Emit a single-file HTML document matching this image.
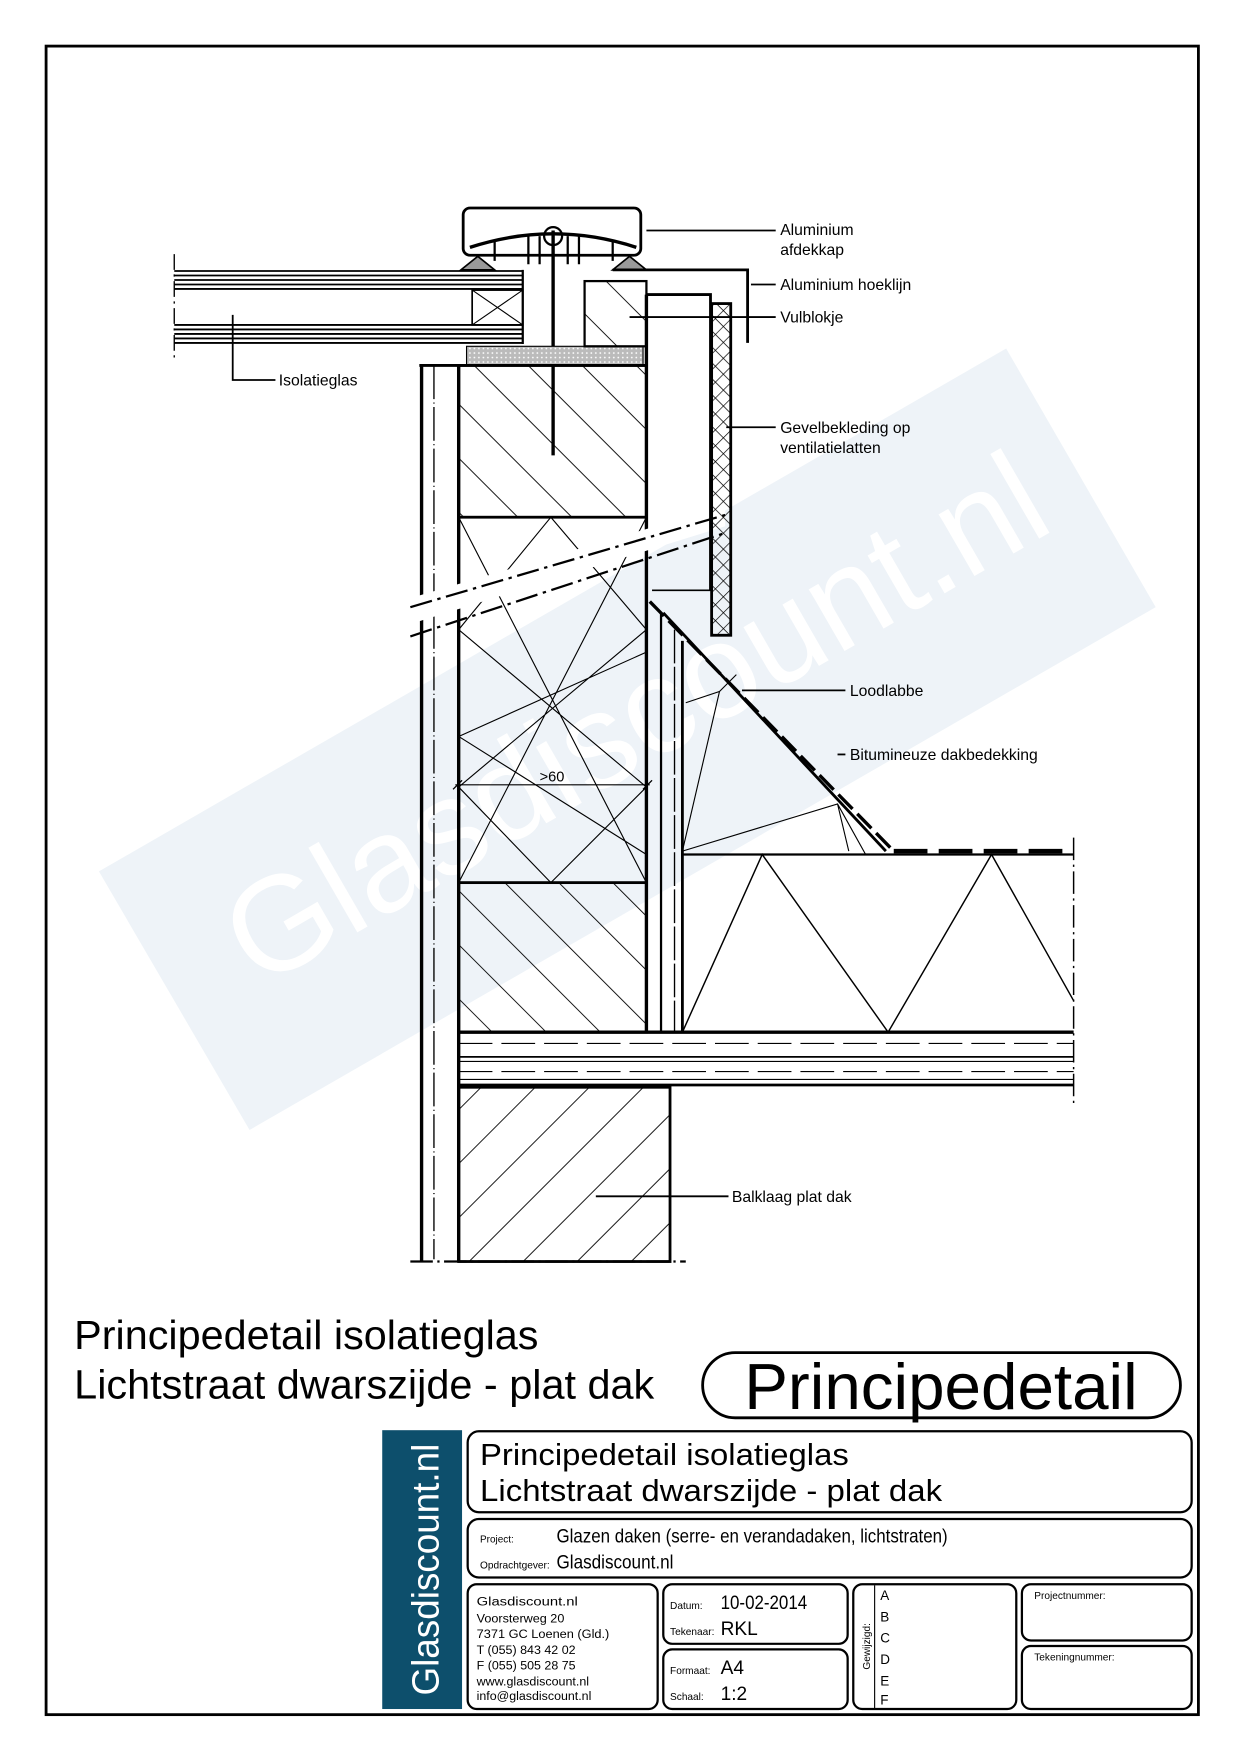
<!DOCTYPE html>
<html><head><meta charset="utf-8"><style>
html,body{margin:0;padding:0;background:#fff}
svg{display:block}
text{font-family:"Liberation Sans",sans-serif;fill:#000}
</style></head><body>
<svg width="1240" height="1754" viewBox="0 0 1103 1560" preserveAspectRatio="none" xmlns="http://www.w3.org/2000/svg">
<defs>
<pattern id="h1" patternUnits="userSpaceOnUse" width="34" height="34" patternTransform="rotate(45)"><line x1="0" y1="0" x2="0" y2="34" stroke="#000" stroke-width="1.6"/></pattern>
<pattern id="h2" patternUnits="userSpaceOnUse" width="34" height="34" patternTransform="rotate(-45)"><line x1="0" y1="0" x2="0" y2="34" stroke="#000" stroke-width="1.6"/></pattern>
<pattern id="xh" patternUnits="userSpaceOnUse" width="10" height="10" patternTransform="rotate(45)"><path d="M0 0V10M0 0H10" stroke="#000" stroke-width="1.2" fill="none"/></pattern>
<pattern id="dots" patternUnits="userSpaceOnUse" width="4" height="4"><rect width="4" height="4" fill="#bbb"/><circle cx="2" cy="2" r="0.8" fill="#fff"/></pattern>
</defs>
<polygon points="88,775 895,310 1028,540 222,1005" fill="#eef3f8"/>
<text x="0" y="0" transform="translate(230,880) rotate(-30)" font-size="120" style="fill:#fff">Glasdiscount.nl</text>
<rect x="41" y="41" width="1025" height="1484" fill="none" stroke="#000" stroke-width="2.5"/>

<g stroke="#000" fill="none">
<g stroke-width="1.6">
<line x1="155" y1="241" x2="465" y2="241"/><line x1="155" y1="245" x2="465" y2="245"/><line x1="155" y1="249" x2="465" y2="249"/><line x1="155" y1="253" x2="465" y2="253"/><line x1="155" y1="257" x2="465" y2="257"/>
<line x1="155" y1="289" x2="465" y2="289"/><line x1="155" y1="293" x2="465" y2="293"/><line x1="155" y1="297" x2="465" y2="297"/><line x1="155" y1="301" x2="465" y2="301"/><line x1="155" y1="305" x2="465" y2="305"/>
</g>
<line x1="465" y1="240" x2="465" y2="306" stroke-width="2"/>
<rect x="420" y="258" width="45" height="31" stroke-width="1.5"/>
<path d="M420 258L465 289M465 258L420 289" stroke-width="1"/>
<line x1="155" y1="226" x2="155" y2="320" stroke-dasharray="14,4,2,4" stroke-width="1.2"/>
<rect x="412" y="185" width="158" height="42" rx="6" stroke-width="2.5"/>
<path d="M418 220Q492 196 566 220" stroke-width="3"/>
<path d="M410 240L425 228L440 240Z M545 240L560 228L575 240Z" fill="#999" stroke-width="1.5"/>
<path d="M470 210V235M480 210V235M505 210V235M515 210V235M440 215V232M545 215V232" stroke-width="2"/>
<line x1="492" y1="205" x2="492" y2="405" stroke-width="3"/>
<circle cx="492" cy="210" r="8" stroke-width="2"/>
<rect x="415" y="308" width="157" height="17" fill="url(#dots)" stroke-width="1"/>
<rect x="520" y="250" width="55" height="58" fill="url(#h2)" stroke-width="2"/>
<path d="M545 240H665V305" stroke-width="2.5"/>
<line x1="375" y1="325" x2="375" y2="1122" stroke-width="3"/>
<line x1="386" y1="325" x2="386" y2="1120" stroke-width="1.2" stroke-dasharray="30,3,1,3"/>
<line x1="373" y1="325" x2="575" y2="325" stroke-width="2.5"/>
<line x1="408" y1="325" x2="408" y2="1122" stroke-width="3"/>
<line x1="575" y1="262" x2="575" y2="918" stroke-width="3"/>
<rect x="408" y="325" width="167" height="135" fill="url(#h2)" stroke-width="2.5"/>
<g stroke-width="1">
<path d="M408 460L575 785M575 460L408 785M408 560L490 460M575 560L490 460M408 560L575 700M575 560L408 700M408 700L490 785M575 700L490 785M408 655L575 580M408 655L575 760"/>
</g>
<rect x="408" y="785" width="167" height="133" fill="url(#h2)" stroke-width="2.5"/>
<polygon points="365,532 645,450 645,468 365,555" fill="#fff" stroke="none"/>
<line x1="365" y1="540" x2="645" y2="458" stroke-width="2" stroke-dasharray="20,5,3,5"/>
<line x1="365" y1="566" x2="645" y2="474" stroke-width="2" stroke-dasharray="20,5,3,5"/>
<path d="M575 262H632V525" stroke-width="2.5"/>
<rect x="633" y="270" width="17" height="295" fill="url(#xh)" stroke-width="2.5"/>
<line x1="580" y1="525" x2="632" y2="525" stroke-width="1.5"/>
<line x1="588" y1="545" x2="588" y2="918" stroke-width="2"/>
<line x1="600" y1="560" x2="600" y2="918" stroke-width="1.2" stroke-dasharray="30,3"/>
<line x1="607" y1="570" x2="607" y2="918" stroke-width="2.5"/>
<path d="M578 535L795 757" stroke-width="3" stroke-dasharray="18,6"/>
<path d="M590 545L788 757" stroke-width="2.5"/>
<path d="M607 757L745 715L755 757M607 757L640 615L610 625M640 615L655 600M745 715L770 760" stroke-width="1"/>
<line x1="607" y1="760" x2="955" y2="760" stroke-width="2"/>
<line x1="795" y1="757" x2="955" y2="757" stroke-width="4" stroke-dasharray="30,10"/>
<line x1="955" y1="745" x2="955" y2="985" stroke-width="1.3" stroke-dasharray="20,4,2,4"/>
<path d="M607 918L678 760L790 918L882 760L955 890" stroke-width="1.3"/>
<line x1="408" y1="918" x2="955" y2="918" stroke-width="3"/>
<line x1="408" y1="965" x2="955" y2="965" stroke-width="2.5"/>
<line x1="408" y1="940" x2="955" y2="940" stroke-width="1.5"/>
<line x1="408" y1="944" x2="955" y2="944" stroke-width="1"/>
<line x1="408" y1="928" x2="955" y2="928" stroke-width="1" stroke-dasharray="30,8"/>
<line x1="408" y1="953" x2="955" y2="953" stroke-width="1" stroke-dasharray="30,8"/>
<line x1="408" y1="960" x2="955" y2="960" stroke-width="1"/>
<rect x="408" y="967" width="188" height="155" fill="url(#h1)" stroke-width="2.5"/>
<line x1="365" y1="1122" x2="610" y2="1122" stroke-width="2" stroke-dasharray="20,4,2,4"/>
<line x1="405" y1="698" x2="578" y2="698" stroke-width="1"/>
<path d="M403 702L411 694M572 702L580 694" stroke-width="1.2"/>
<g stroke-width="1.6">
<path d="M207 280V338H245"/>
<path d="M575 205H690"/>
<path d="M668 253H690"/>
<path d="M560 282H690"/>
<path d="M646 380H690"/>
<path d="M660 614H752"/>
<path d="M745 671H752"/>
<path d="M530 1064H648"/>
</g>
</g>
<text x="480" y="695" font-size="13">&gt;60</text>
<g font-size="14">
<text x="248" y="343">Isolatieglas</text>
<text x="694" y="209">Aluminium</text>
<text x="694" y="227">afdekkap</text>
<text x="694" y="258">Aluminium hoeklijn</text>
<text x="694" y="287">Vulblokje</text>
<text x="694" y="385">Gevelbekleding op</text>
<text x="694" y="403">ventilatielatten</text>
<text x="756" y="619">Loodlabbe</text>
<text x="756" y="676">Bitumineuze dakbedekking</text>
<text x="651" y="1069">Balklaag plat dak</text>
</g>
<text x="66" y="1200" font-size="36" textLength="413" lengthAdjust="spacingAndGlyphs">Principedetail isolatieglas</text>
<text x="66" y="1244" font-size="36" textLength="516" lengthAdjust="spacingAndGlyphs">Lichtstraat dwarszijde - plat dak</text>
<rect x="625" y="1203" width="425" height="58" rx="29" fill="none" stroke="#000" stroke-width="2.5"/>
<text x="662" y="1253" font-size="58" textLength="350" lengthAdjust="spacingAndGlyphs">Principedetail</text>
<rect x="340" y="1272" width="71" height="248" fill="#0d4f6c"/>
<text transform="translate(390,1508) rotate(-90)" font-size="34" style="fill:#fff" textLength="224" lengthAdjust="spacingAndGlyphs">Glasdiscount.nl</text>
<g fill="none" stroke="#000" stroke-width="2">
<rect x="416" y="1273" width="644" height="72" rx="10"/>
<rect x="416" y="1351" width="644" height="52" rx="10"/>
<rect x="416" y="1409" width="169" height="111" rx="8"/>
<rect x="590" y="1409" width="164" height="53" rx="8"/>
<rect x="590" y="1467" width="164" height="53" rx="8"/>
<rect x="759" y="1409" width="145" height="111" rx="8"/>
<rect x="909" y="1409" width="151" height="50" rx="8"/>
<rect x="909" y="1464" width="151" height="56" rx="8"/>
<line x1="778" y1="1410" x2="778" y2="1520" stroke-width="1"/>
</g>
<text x="427" y="1303" font-size="27" textLength="328" lengthAdjust="spacingAndGlyphs">Principedetail isolatieglas</text>
<text x="427" y="1335" font-size="27" textLength="411" lengthAdjust="spacingAndGlyphs">Lichtstraat dwarszijde - plat dak</text>
<text x="427" y="1372" font-size="9" textLength="30" lengthAdjust="spacingAndGlyphs">Project:</text>
<text x="495" y="1372" font-size="17" textLength="348" lengthAdjust="spacingAndGlyphs">Glazen daken (serre- en verandadaken, lichtstraten)</text>
<text x="427" y="1395" font-size="9" textLength="62" lengthAdjust="spacingAndGlyphs">Opdrachtgever:</text>
<text x="495" y="1395" font-size="17" textLength="104" lengthAdjust="spacingAndGlyphs">Glasdiscount.nl</text>
<g font-size="11">
<text x="424" y="1428" textLength="90" lengthAdjust="spacingAndGlyphs">Glasdiscount.nl</text>
<text x="424" y="1443" textLength="78" lengthAdjust="spacingAndGlyphs">Voorsterweg 20</text>
<text x="424" y="1457" textLength="118" lengthAdjust="spacingAndGlyphs">7371 GC  Loenen (Gld.)</text>
<text x="424" y="1471" textLength="88" lengthAdjust="spacingAndGlyphs">T (055) 843 42 02</text>
<text x="424" y="1485" textLength="88" lengthAdjust="spacingAndGlyphs">F (055) 505 28 75</text>
<text x="424" y="1499" textLength="100" lengthAdjust="spacingAndGlyphs">www.glasdiscount.nl</text>
<text x="424" y="1512" textLength="102" lengthAdjust="spacingAndGlyphs">info@glasdiscount.nl</text>
</g>
<text x="596" y="1431" font-size="9">Datum:</text><text x="641" y="1431" font-size="17" textLength="77" lengthAdjust="spacingAndGlyphs">10-02-2014</text>
<text x="596" y="1454" font-size="9">Tekenaar:</text><text x="641" y="1454" font-size="17">RKL</text>
<text x="596" y="1489" font-size="9">Formaat:</text><text x="641" y="1489" font-size="17">A4</text>
<text x="596" y="1512" font-size="9">Schaal:</text><text x="641" y="1512" font-size="17">1:2</text>
<text transform="translate(774,1485) rotate(-90)" font-size="9">Gewijzigd:</text>
<g font-size="12"><text x="783" y="1423">A</text><text x="783" y="1442">B</text><text x="783" y="1461">C</text><text x="783" y="1480">D</text><text x="783" y="1499">E</text><text x="783" y="1516">F</text></g>
<text x="920" y="1422" font-size="9">Projectnummer:</text>
<text x="920" y="1477" font-size="9">Tekeningnummer:</text>
</svg>
</body></html>
